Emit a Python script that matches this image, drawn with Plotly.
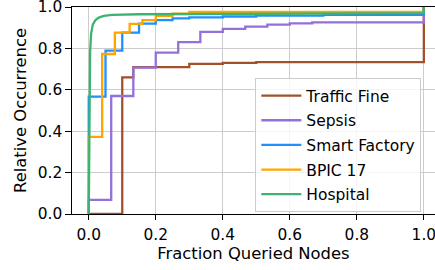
import plotly.graph_objects as go

# ---- data ----
tf_x = [0.0, 0.1, 0.133, 0.3, 0.4, 0.5, 1.0]
tf_y = [0.0, 0.66, 0.71, 0.725, 0.73, 0.734, 1.0]

sep_x = [0.0, 0.0, 0.067, 0.133, 0.2, 0.267, 0.333, 0.4, 0.467, 0.533, 0.6, 0.667, 1.0]
sep_y = [0.0, 0.068, 0.57, 0.707, 0.78, 0.83, 0.88, 0.894, 0.905, 0.915, 0.921, 0.926, 1.0]

sf_x = [0.0, 0.0, 0.05, 0.1, 0.15, 0.2, 0.25, 0.3, 0.4, 0.5, 0.7, 1.0]
sf_y = [0.0, 0.567, 0.789, 0.876, 0.92, 0.937, 0.945, 0.95, 0.954, 0.958, 0.962, 1.0]

bp_x = [0.0, 0.0, 0.04, 0.078, 0.122, 0.16, 0.2, 0.25, 0.3, 1.0]
bp_y = [0.0, 0.373, 0.773, 0.876, 0.918, 0.937, 0.957, 0.968, 0.976, 1.0]

ho_x = [0.0, 0.001, 0.002, 0.004, 0.007, 0.012, 0.02, 0.03, 0.045, 0.07, 0.15, 0.5, 1.0, 1.0]
ho_y = [0.0, 0.3, 0.55, 0.78, 0.87, 0.915, 0.937, 0.949, 0.957, 0.962, 0.965, 0.968, 0.97, 1.0]

names = ["Traffic Fine", "Sepsis", "Smart Factory", "BPIC 17", "Hospital"]
colors = ["#A0522D", "#9370DB", "#1E90FF", "#FFA500", "#3CB371"]
xs = [tf_x, sep_x, sf_x, bp_x, ho_x]
ys = [tf_y, sep_y, sf_y, bp_y, ho_y]
shapes = ["hv", "hv", "hv", "hv", "linear"]

x_ticks = [0.0, 0.2, 0.4, 0.6, 0.8, 1.0]
y_ticks = [0.0, 0.2, 0.4, 0.6, 0.8, 1.0]

FONT = "DejaVu Sans"
FS = 15.4
TFS = 16.4

fig = go.Figure()
for n, c, x, y, s in zip(names, colors, xs, ys, shapes):
    fig.add_trace(go.Scatter(x=x, y=y, mode="lines", name=n, legendgroup=n,
                             line=dict(color=c, width=2.3, shape=s)))

fig.update_layout(
    width=435, height=270,
    margin=dict(l=72, r=0, t=7, b=56, autoexpand=False),
    paper_bgcolor="white", plot_bgcolor="white",
    font=dict(family=FONT, size=FS, color="black"),
    showlegend=True,
    legend=dict(x=0.505, y=0.657, xanchor="left", yanchor="top",
                bgcolor="rgba(255,255,255,0.8)", bordercolor="#cccccc", borderwidth=1,
                font=dict(family=FONT, size=15.5), traceorder="grouped", tracegroupgap=1.5,
                itemwidth=40),
)
fig.update_xaxes(range=[-0.05, 1.0333], tickvals=x_ticks, ticktext=[f"{v:.1f}" for v in x_ticks],
                 showgrid=True, gridcolor="#cccccc", gridwidth=1,
                 showline=True, linecolor="black", linewidth=1.2, mirror=True,
                 ticks="outside", ticklen=5, tickcolor="black", zeroline=False,
                 ticklabeloverflow="allow", ticklabelstandoff=1,
                 title=dict(text="Fraction Queried Nodes", standoff=4,
                            font=dict(family=FONT, size=TFS)))
fig.update_yaxes(range=[0, 1], tickvals=y_ticks, ticktext=[f"{v:.1f}" for v in y_ticks],
                 showgrid=True, gridcolor="#cccccc", gridwidth=1,
                 showline=True, linecolor="black", linewidth=1.2, mirror=False,
                 ticks="outside", ticklen=5.5, tickcolor="black", zeroline=False,
                 ticklabeloverflow="allow",
                 title=dict(text="Relative Occurrence", standoff=7,
                            font=dict(family=FONT, size=TFS)))

fig.write_html("out.html", config={"displayModeBar": False},
               post_script="document.body.style.margin='0';document.body.style.overflow='hidden';")
